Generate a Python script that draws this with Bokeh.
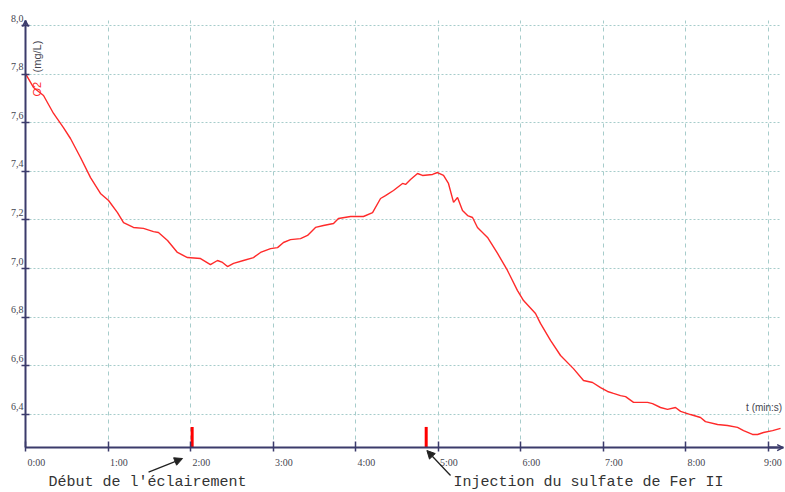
from math import pi
from bokeh.plotting import figure
from bokeh.models import (Range1d, LinearAxis, FixedTicker, ColumnDataSource, LabelSet,
                          Label, Arrow, NormalHead, OpenHead, Grid)
from bokeh.embed import file_html
from bokeh.resources import INLINE

# ---- data (time in seconds, dissolved O2 in mg/L) ----
time_s = [0.0, 5.8, 13.1, 20.4, 27.6, 32.7, 40.0, 47.3, 54.5, 60.4, 66.9, 71.3, 78.5, 85.8,
          93.1, 96.7, 103.3, 110.5, 117.8, 127.3, 134.5, 139.6, 143.3, 146.9, 151.3, 158.5,
          165.8, 170.9, 178.2, 183.3, 187.6, 192.7, 200.0, 205.1, 210.9, 216.7, 224.0, 227.6,
          236.4, 245.8, 252.4, 258.2, 261.8, 267.6, 274.2, 276.4, 280.0, 285.1, 288.7, 296.0,
          299.6, 304.0, 307.6, 311.3, 314.2, 317.8, 321.5, 325.1, 328.7, 336.0, 343.3, 350.5,
          357.8, 362.2, 370.9, 374.5, 381.8, 389.1, 398.5, 405.8, 412.4, 418.2, 423.3, 427.6,
          432.7, 436.4, 442.2, 452.4, 456.0, 461.8, 466.9, 472.7, 476.4, 483.6, 490.9, 494.5,
          503.3, 510.5, 517.8, 522.2, 528.7, 532.4, 536.7, 543.3, 549.1]
o2_mg_l = [7.802, 7.745, 7.712, 7.638, 7.580, 7.535, 7.457, 7.374, 7.309, 7.280, 7.230, 7.189,
           7.169, 7.165, 7.152, 7.148, 7.115, 7.066, 7.045, 7.041, 7.016, 7.033, 7.025, 7.008,
           7.021, 7.033, 7.045, 7.066, 7.082, 7.086, 7.107, 7.119, 7.123, 7.136, 7.169, 7.177,
           7.185, 7.206, 7.214, 7.214, 7.230, 7.288, 7.300, 7.321, 7.350, 7.346, 7.366, 7.391,
           7.383, 7.387, 7.395, 7.383, 7.350, 7.272, 7.292, 7.239, 7.218, 7.210, 7.169, 7.128,
           7.062, 6.992, 6.909, 6.868, 6.815, 6.774, 6.704, 6.642, 6.588, 6.539, 6.531, 6.510,
           6.494, 6.486, 6.477, 6.473, 6.449, 6.449, 6.444, 6.428, 6.420, 6.428, 6.412, 6.399,
           6.387, 6.370, 6.358, 6.354, 6.346, 6.333, 6.317, 6.317, 6.325, 6.333, 6.342]

x_ticks = [0, 60, 120, 180, 240, 300, 360, 420, 480, 540]
x_tick_labels = ["0:00", "1:00", "2:00", "3:00", "4:00", "5:00", "6:00", "7:00", "8:00", "9:00"]
y_ticks = [6.4, 6.6, 6.8, 7.0, 7.2, 7.4, 7.6, 7.8, 8.0]
y_tick_labels = ["6,4", "6,6", "6,8", "7,0", "7,2", "7,4", "7,6", "7,8", "8,0"]

event_times = [121.2, 291.4]
event_marker_top = 6.348
event_texts = ["Début de l'éclairement", "Injection du sulfate de Fer II"]

# ---- styling ----
AXIS = "#3b3b6b"
GRID = "#a6cccb"
RED = "#ff2a2a"
TXT = "#45454f"
NARROW = "Liberation Sans Narrow, Liberation Sans, sans-serif"
MONO = "Liberation Mono, DejaVu Sans Mono, monospace"

# visible window of the chart (the frame spans the whole canvas)
x0, x1 = -18.18, 552.7
y0, y1 = 6.0782, 8.1029
axis_y = 6.263          # level of the time axis
t_end = 551.0           # end of time axis
v_top = 8.02            # top of the O2 axis

p = figure(width=785, height=492, x_range=Range1d(x0, x1), y_range=Range1d(y0, y1),
           output_backend="svg", toolbar_location=None, x_axis_type=None, y_axis_type=None,
           min_border=0)
p.outline_line_color = None
p.background_fill_color = "white"
p.border_fill_color = "white"

# grids
xg = Grid(dimension=0, ticker=FixedTicker(ticks=x_ticks), grid_line_color=GRID,
          grid_line_dash="4 4", grid_line_width=1, cross_bounds=(axis_y, v_top))
yg = Grid(dimension=1, ticker=FixedTicker(ticks=y_ticks), grid_line_color=GRID,
          grid_line_dash="2 2", grid_line_width=1, cross_bounds=(0, t_end - 2))
p.add_layout(xg)
p.add_layout(yg)

# axes (fixed inside the canvas)
xa = LinearAxis(ticker=FixedTicker(ticks=x_ticks), fixed_location=axis_y, bounds=(0, t_end),
                major_label_text_color=None,
                axis_line_color=AXIS, axis_line_width=2, major_tick_line_color=AXIS,
                major_tick_line_width=1.5, major_tick_in=6, major_tick_out=4,
                minor_tick_line_color=None)
ya = LinearAxis(ticker=FixedTicker(ticks=y_ticks), fixed_location=0, bounds=(axis_y, v_top),
                major_label_text_color=None,
                axis_line_color=AXIS, axis_line_width=2, major_tick_line_color=AXIS,
                major_tick_line_width=1.5, major_tick_in=4, major_tick_out=4,
                minor_tick_line_color=None)
p.add_layout(xa, "below")
p.add_layout(ya, "left")

# tick labels (the last time label is nudged left so that it stays on the canvas)
x_label_shift = [2] * (len(x_ticks) - 1) + [-4]
xsrc = ColumnDataSource(dict(x=x_ticks, y=[axis_y] * len(x_ticks), t=x_tick_labels,
                             dx=x_label_shift))
p.add_layout(LabelSet(source=xsrc, x="x", y="y", text="t", x_offset="dx", y_offset=-18,
                      text_align="left", text_baseline="alphabetic",
                      text_font=NARROW, text_font_size="10px", text_color=TXT))
ysrc = ColumnDataSource(dict(x=[0] * len(y_ticks), y=y_ticks, t=y_tick_labels))
p.add_layout(LabelSet(source=ysrc, x="x", y="y", text="t", x_offset=-2, y_offset=4,
                      text_align="right", text_baseline="alphabetic",
                      text_font=NARROW, text_font_size="10px", text_color=TXT))

# axis arrows
p.add_layout(Arrow(x_start=0, y_start=8.0, x_end=0, y_end=v_top,
                   line_color=AXIS, line_width=2,
                   end=OpenHead(size=6, line_color=AXIS, line_width=1.5)))
p.add_layout(Arrow(x_start=540, y_start=axis_y, x_end=t_end, y_end=axis_y,
                   line_color=AXIS, line_width=2,
                   end=OpenHead(size=6, line_color=AXIS, line_width=1.5)))

# axis titles
p.add_layout(Label(x=0, y=7.708, x_offset=12, text="O2", angle=pi / 2,
                   text_align="left", text_baseline="alphabetic",
                   text_font=NARROW, text_font_size="11px", text_color=RED))
p.add_layout(Label(x=0, y=7.807, x_offset=12, text="(mg/L)", angle=pi / 2,
                   text_align="left", text_baseline="alphabetic",
                   text_font=NARROW, text_font_size="11px", text_color=TXT))
p.add_layout(Label(x=550.3, y=6.428, text="t (min:s)",
                   text_align="right", text_baseline="alphabetic",
                   text_font=NARROW, text_font_size="10px", text_color=TXT))

# curve
p.line(time_s, o2_mg_l, line_color=RED, line_width=1.4)

# event markers
p.segment(x0=event_times, y0=[axis_y] * 2, x1=event_times, y1=[event_marker_top] * 2,
          line_color="#ff0000", line_width=3)

# event annotations (text + arrows)
p.add_layout(Label(x=16.7, y=6.119, text=event_texts[0], text_align="left",
                   text_baseline="alphabetic", text_font=MONO, text_font_size="15px",
                   text_color="#333333"))
p.add_layout(Label(x=311.3, y=6.119, text=event_texts[1], text_align="left",
                   text_baseline="alphabetic", text_font=MONO, text_font_size="15px",
                   text_color="#333333"))
p.add_layout(Arrow(x_start=89.5, y_start=6.162, x_end=114.2, y_end=6.218,
                   line_color="#222222", line_width=1.3,
                   end=NormalHead(size=8, fill_color="#222222", line_color="#222222")))
p.add_layout(Arrow(x_start=309.1, y_start=6.148, x_end=event_times[1] + 0.5, y_end=6.251,
                   line_color="#222222", line_width=1.3,
                   end=NormalHead(size=8, fill_color="#222222", line_color="#222222")))

open("out.html", "w").write(file_html(p, INLINE))
